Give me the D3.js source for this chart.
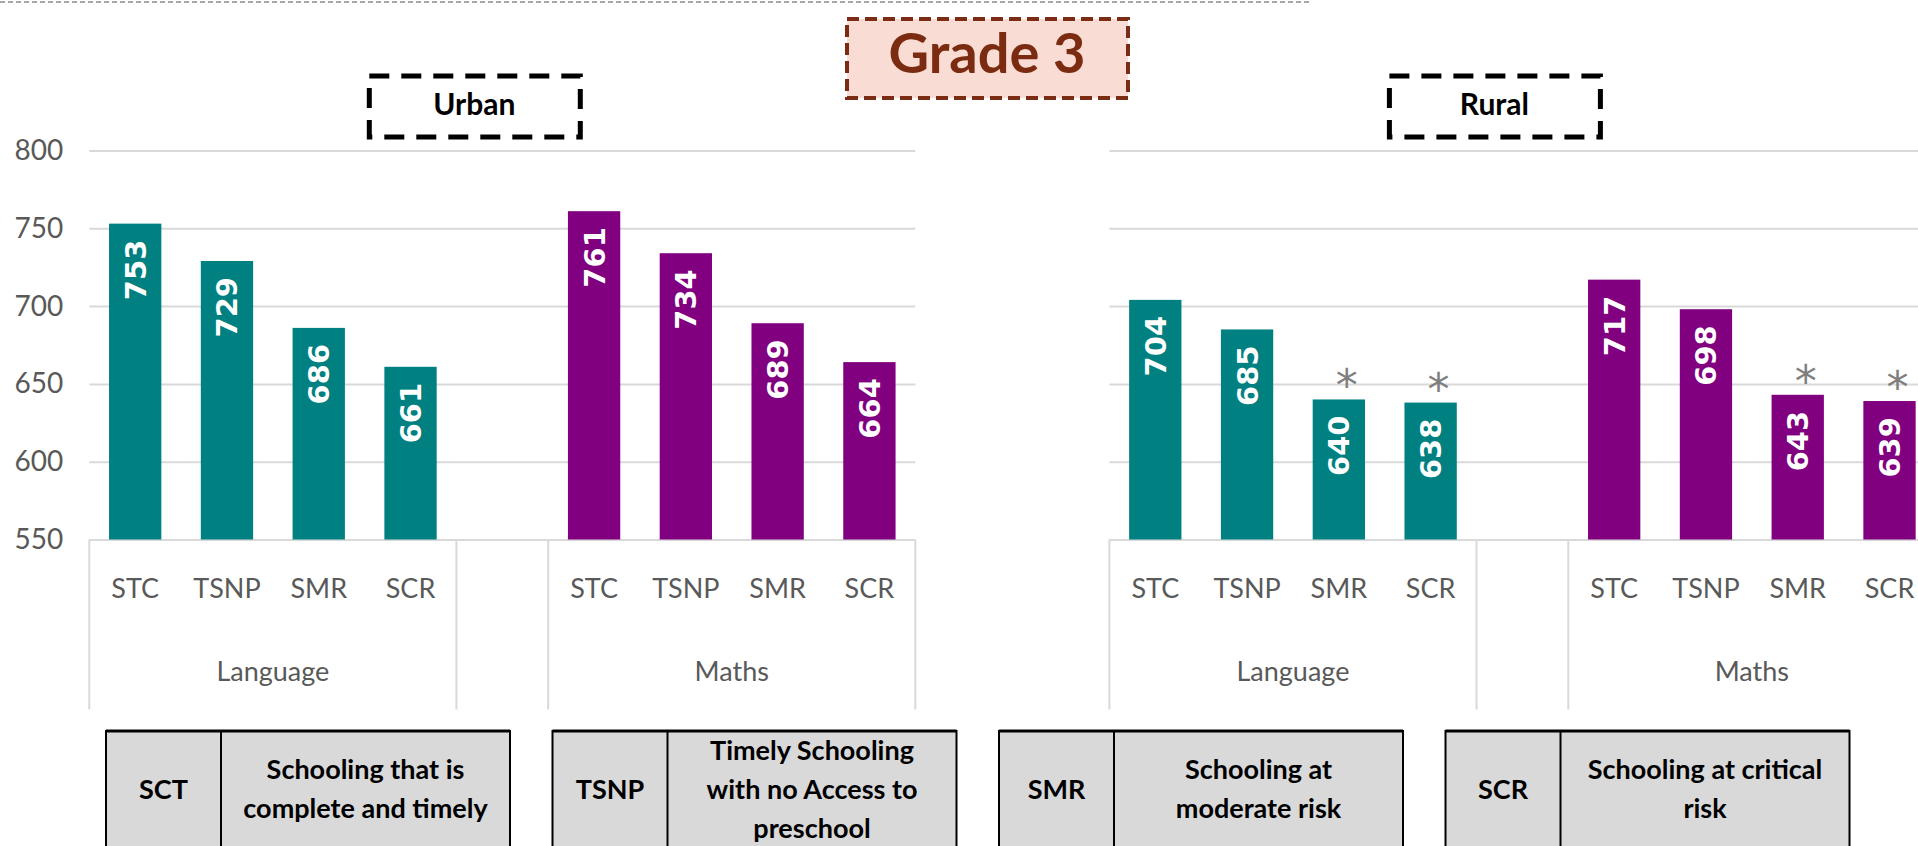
<!DOCTYPE html>
<html>
<head>
<meta charset="utf-8">
<script src="https://cdn.jsdelivr.net/npm/d3@7"></script>
<style>
  body { margin: 0; background: #fff; }
  svg { display: block; }
</style>
</head>
<body>
<svg id="chart" width="1918" height="846"></svg>
<script>
// data
var subjects = ["Language", "Maths"];
var categories = ["STC", "TSNP", "SMR", "SCR"];
var urbanLanguage = [753, 729, 686, 661];
var urbanMaths = [761, 734, 689, 664];
var ruralLanguage = [704, 685, 640, 638];
var ruralMaths = [717, 698, 643, 639];
var urbanStars = [false, false, false, false];
var ruralStars = [false, false, true, true];
var yTicks = [550, 600, 650, 700, 750, 800];
var legendCodes = ["SCT", "TSNP", "SMR", "SCR"];
var legendText = [
  ["Schooling that is", "complete and timely"],
  ["Timely Schooling", "with no Access to", "preschool"],
  ["Schooling at", "moderate risk"],
  ["Schooling at critical", "risk"]
];

var subjectColor = { Language: "#008080", Maths: "#800080" };
var FONT = "Lato, 'Open Sans', sans-serif";

var svg = d3.select("#chart");
var panelW = 826;

var y = d3.scaleLinear().domain([550, 800]).range([539.5, 150.5]);

// top dashed rule
svg.append("line")
  .attr("x1", 0).attr("x2", 1311).attr("y1", 2).attr("y2", 2)
  .attr("stroke", "#8a8a8a").attr("stroke-width", 1.5)
  .attr("stroke-dasharray", "5,3");

function drawPanel(x0, title, langVals, mathVals, stars, showLabels) {
  var values = { Language: langVals, Maths: mathVals };
  var g = svg.append("g").attr("transform", "translate(" + x0 + ",0)");

  // slots: 4 categories, an empty slot, 4 categories
  var slots = [];
  subjects.forEach(function(s, i) {
    if (i > 0) slots.push("gap");
    categories.forEach(function(c) { slots.push(s + "|" + c); });
  });
  var x = d3.scaleBand().domain(slots).range([0, panelW])
    .paddingInner(0.43).paddingOuter(0.215);
  var half = (x.step() - x.bandwidth()) / 2;

  // gridlines + y labels
  var axis = g.append("g")
    .call(d3.axisLeft(y).tickValues(yTicks).tickSize(-panelW).tickPadding(26)
      .tickFormat(showLabels ? d3.format("d") : ""));
  axis.select(".domain").remove();
  axis.selectAll(".tick line").attr("stroke", "#d9d9d9").attr("stroke-width", 2);
  axis.selectAll(".tick text").attr("fill", "#595959")
    .style("font-family", FONT).style("font-size", "28px");

  // multi-level category separators
  var bounds = [];
  subjects.forEach(function(s) {
    bounds.push(x(s + "|" + categories[0]) - half);
    bounds.push(x(s + "|" + categories[categories.length - 1]) + x.bandwidth() + half);
  });
  g.selectAll("line.sep").data(bounds).enter().append("line")
    .attr("class", "sep")
    .attr("x1", function(d) { return d; }).attr("x2", function(d) { return d; })
    .attr("y1", y(550)).attr("y2", 709.5)
    .attr("stroke", "#d9d9d9").attr("stroke-width", 2);

  subjects.forEach(function(s) {
    var rows = categories.map(function(c, i) {
      return { key: s + "|" + c, cat: c, v: values[s][i], star: stars[i] };
    });

    g.selectAll("rect." + s).data(rows).enter().append("rect")
      .attr("x", function(d) { return x(d.key); })
      .attr("y", function(d) { return y(d.v); })
      .attr("width", x.bandwidth())
      .attr("height", function(d) { return y(550) - y(d.v); })
      .attr("fill", subjectColor[s]);

    g.selectAll("text.val" + s).data(rows).enter().append("text")
      .attr("transform", function(d) {
        return "translate(" + (x(d.key) + x.bandwidth() / 2) + "," + (y(d.v) + 16) + ") rotate(-90)";
      })
      .attr("text-anchor", "end").attr("dy", "0.36em")
      .attr("fill", "#fff")
      .style("font-family", "'DejaVu Sans', sans-serif")
      .style("font-weight", "bold").style("font-size", "29px")
      .text(function(d) { return d.v; });

    // significance marks
    g.selectAll("text.star" + s).data(rows.filter(function(d) { return d.star; })).enter().append("text")
      .attr("x", function(d) { return x(d.key) + x.bandwidth() / 2 + 8; })
      .attr("y", function(d) { return y(d.v) + 2; })
      .attr("text-anchor", "middle").attr("fill", "#7f7f7f")
      .style("font-family", "'DejaVu Sans', sans-serif").style("font-size", "44px")
      .text("*");

    g.selectAll("text.cat" + s).data(rows).enter().append("text")
      .attr("x", function(d) { return x(d.key) + x.bandwidth() / 2; })
      .attr("y", y(550) + 52)
      .attr("text-anchor", "middle").attr("dominant-baseline", "middle")
      .attr("fill", "#595959")
      .style("font-family", FONT).style("font-size", "27px")
      .text(function(d) { return d.cat; });

    var gx = (x(s + "|" + categories[0]) - half +
              x(s + "|" + categories[categories.length - 1]) + x.bandwidth() + half) / 2;
    g.append("text")
      .attr("x", gx).attr("y", y(550) + 135)
      .attr("text-anchor", "middle").attr("dominant-baseline", "middle")
      .attr("fill", "#595959")
      .style("font-family", FONT).style("font-size", "27px")
      .text(s);
  });

  // dashed title box
  g.append("rect")
    .attr("x", 280).attr("y", 76).attr("width", 211).attr("height", 61)
    .attr("fill", "#fff").attr("stroke", "#000").attr("stroke-width", 5)
    .attr("stroke-dasharray", "20,12");
  g.append("text")
    .attr("x", 385).attr("y", 107)
    .attr("text-anchor", "middle").attr("dominant-baseline", "middle")
    .attr("fill", "#000")
    .style("font-family", FONT).style("font-weight", "bold").style("font-size", "30px")
    .text(title);
}

drawPanel(89.3, "Urban", urbanLanguage, urbanMaths, urbanStars, true);
drawPanel(1109.4, "Rural", ruralLanguage, ruralMaths, ruralStars, false);

// Grade title
svg.append("rect")
  .attr("x", 847).attr("y", 19).attr("width", 281).attr("height", 79)
  .attr("fill", "#f9ddd4").attr("stroke", "#7b2c14").attr("stroke-width", 4)
  .attr("stroke-dasharray", "12,6");
svg.append("text")
  .attr("x", 987).attr("y", 59)
  .attr("text-anchor", "middle").attr("dominant-baseline", "middle")
  .attr("fill", "#7b2c10")
  .style("font-family", FONT).style("font-weight", "bold").style("font-size", "56px")
  .text("Grade 3");

// glossary boxes
var lg = svg.append("g");
legendCodes.forEach(function(code, i) {
  var bx = 106 + i * 446.5, by = 731, bw = 404, cw = 115, bh = 140;
  var b = lg.append("g").attr("transform", "translate(" + bx + "," + by + ")");
  b.append("rect").attr("width", bw).attr("height", bh)
    .attr("fill", "#d9d9d9").attr("stroke", "#000").attr("stroke-width", 2);
  b.append("line").attr("x1", 0).attr("x2", bw).attr("y1", 0).attr("y2", 0)
    .attr("stroke", "#000").attr("stroke-width", 3);
  b.append("line").attr("x1", cw).attr("x2", cw).attr("y1", 0).attr("y2", bh)
    .attr("stroke", "#000").attr("stroke-width", 2);
  b.append("text")
    .attr("x", cw / 2).attr("y", 61)
    .attr("text-anchor", "middle").attr("dominant-baseline", "middle")
    .style("font-family", FONT).style("font-weight", "bold").style("font-size", "27px")
    .text(code);
  var lines = legendText[i];
  b.selectAll("text.d").data(lines).enter().append("text")
    .attr("x", cw + (bw - cw) / 2)
    .attr("y", function(d, j) { return 61 + (j - (lines.length - 1) / 2) * 39; })
    .attr("text-anchor", "middle").attr("dominant-baseline", "middle")
    .style("font-family", FONT).style("font-weight", "bold").style("font-size", "27px")
    .text(function(d) { return d; });
});
</script>
</body>
</html>
